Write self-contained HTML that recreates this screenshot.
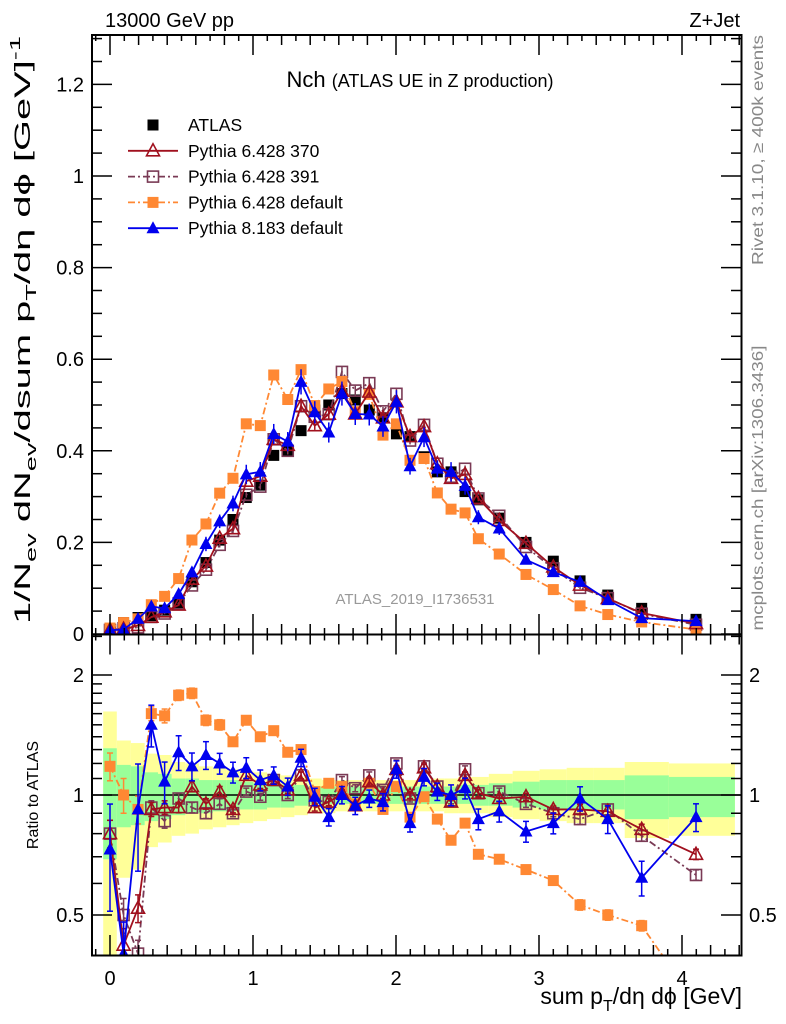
<!DOCTYPE html>
<html><head><meta charset="utf-8"><style>
html,body{margin:0;padding:0;background:#fff;}
svg{display:block;font-family:"Liberation Sans",sans-serif;}
</style></head><body>
<svg id="chart" width="786" height="1024" viewBox="0 0 786 1024" xmlns="http://www.w3.org/2000/svg">
<defs>
<clipPath id="cm"><rect x="92" y="35" width="650" height="599"/></clipPath>
<clipPath id="cr"><rect x="92" y="634" width="650" height="321"/></clipPath>
</defs>
<g id="bands" clip-path="url(#cr)"></g>
<g id="marks"></g>
<rect x="92" y="35" width="649.5" height="599.5" fill="none" stroke="#000" stroke-width="2"/>
<rect x="92" y="634.5" width="649.5" height="321" fill="none" stroke="#000" stroke-width="2"/>
<g id="ticks"></g>
<text x="105" y="27" font-size="20">13000 GeV pp</text>
<text x="740" y="27" font-size="20" text-anchor="end">Z+Jet</text>
<text x="420" y="87" font-size="22" text-anchor="middle">Nch <tspan font-size="18">(ATLAS UE in Z production)</tspan></text>
<text x="415" y="604" font-size="15" fill="#999" text-anchor="middle">ATLAS_2019_I1736531</text>
<text transform="translate(763,150) rotate(-90)" font-size="16" fill="#888" text-anchor="middle" textLength="230" lengthAdjust="spacingAndGlyphs">Rivet 3.1.10, ≥ 400k events</text>
<text transform="translate(763,488) rotate(-90)" font-size="16" fill="#888" text-anchor="middle" textLength="285" lengthAdjust="spacingAndGlyphs">mcplots.cern.ch [arXiv:1306.3436]</text>
<text transform="translate(30,330) rotate(-90)" font-size="22" text-anchor="middle" textLength="588" lengthAdjust="spacingAndGlyphs">1/N<tspan font-size="15" dy="6">ev</tspan><tspan dy="-6"> dN</tspan><tspan font-size="15" dy="6">ev</tspan><tspan dy="-6">/dsum p</tspan><tspan font-size="15" dy="6">T</tspan><tspan dy="-6">/dη dϕ  [GeV]</tspan><tspan font-size="15" dy="-10">-1</tspan></text>
<text transform="translate(38,795) rotate(-90)" font-size="16" text-anchor="middle">Ratio to ATLAS</text>
<text x="742" y="1004" font-size="23" text-anchor="end">sum p<tspan font-size="16" dy="7">T</tspan><tspan dy="-7">/dη dϕ [GeV]</tspan></text>
<g id="legend"></g>
</svg>
<script>
const xBins = [0.0,0.095,0.196,0.289,0.382,0.48,0.573,0.671,0.767,0.86,0.953,1.051,1.145,1.243,1.336,1.432,1.53,1.622,1.715,1.813,1.909,2.003,2.098,2.196,2.289,2.385,2.483,2.576,2.722,2.909,3.100,3.287,3.481,3.718,4.098];
const atlasVals = [0.011,0.025,0.036,0.04,0.052,0.068,0.114,0.156,0.205,0.25,0.298,0.325,0.39,0.40,0.444,0.489,0.5,0.525,0.511,0.489,0.472,0.437,0.431,0.387,0.354,0.354,0.311,0.293,0.253,0.2,0.159,0.116,0.085,0.056,0.032];
const ratio370 = [0.8,0.42,0.52,0.92,0.93,0.93,1.05,0.95,1.02,0.92,1.12,1.06,1.09,1.03,1.12,0.93,0.96,1.01,0.94,1.08,1.0,1.16,1.0,1.17,1.05,0.96,1.12,1.01,0.98,0.99,0.92,0.92,0.91,0.82,0.71];
const ratio391 = [0.8,0.5,0.4,0.93,0.86,0.98,0.93,0.9,0.95,0.9,1.02,0.99,1.09,1.0,1.12,0.97,0.96,1.09,1.04,1.12,1.03,1.2,0.98,1.18,1.05,0.97,1.16,1.01,1.02,0.95,0.9,0.87,0.92,0.79,0.63];
const ratioP6def = [1.18,1.0,0.92,1.6,1.58,1.78,1.8,1.54,1.5,1.36,1.54,1.4,1.45,1.28,1.3,1.02,1.07,1.05,0.95,1.07,0.92,1.05,0.88,0.99,0.87,0.77,0.85,0.71,0.69,0.65,0.61,0.53,0.5,0.47,0.3];
const ratioP8def = [0.73,0.4,0.92,1.5,1.08,1.28,1.18,1.26,1.2,1.14,1.17,1.09,1.12,1.05,1.24,0.99,0.88,1.0,0.94,0.98,0.96,1.16,0.85,1.11,1.02,1.0,1.04,0.87,0.91,0.81,0.85,0.98,0.87,0.62,0.88];
const errSmall = [0.08,0.1,0.08,0.04,0.04,0.03,0.03,0.03,0.03,0.02,0.02,0.02,0.02,0.02,0.02,0.02,0.02,0.02,0.02,0.02,0.02,0.02,0.02,0.02,0.02,0.02,0.02,0.02,0.02,0.02,0.02,0.03,0.03,0.03,0.03];
const errBlue = [0.3,0.2,0.3,0.12,0.12,0.1,0.08,0.08,0.06,0.06,0.06,0.06,0.05,0.05,0.05,0.05,0.05,0.05,0.05,0.05,0.05,0.05,0.05,0.05,0.05,0.06,0.06,0.06,0.06,0.06,0.06,0.07,0.08,0.1,0.08];
const yelUp = [1.62,1.37,1.35,1.27,1.26,1.21,1.2,1.18,1.17,1.16,1.15,1.14,1.13,1.12,1.11,1.1,1.09,1.09,1.09,1.09,1.09,1.09,1.09,1.09,1.1,1.1,1.11,1.11,1.13,1.15,1.16,1.17,1.17,1.21,1.2];
const yelLo = [0.3,0.62,0.65,0.74,0.76,0.79,0.8,0.82,0.83,0.84,0.85,0.86,0.87,0.88,0.89,0.9,0.9,0.91,0.91,0.91,0.91,0.91,0.91,0.91,0.91,0.9,0.9,0.9,0.88,0.87,0.86,0.85,0.85,0.78,0.79];
const grnUp = [1.31,1.19,1.18,1.14,1.13,1.1,1.1,1.09,1.09,1.09,1.08,1.07,1.07,1.06,1.06,1.05,1.05,1.05,1.05,1.05,1.05,1.05,1.05,1.05,1.05,1.05,1.06,1.06,1.07,1.08,1.09,1.09,1.09,1.12,1.11];
const grnLo = [0.69,0.83,0.84,0.86,0.87,0.89,0.9,0.9,0.91,0.91,0.92,0.92,0.93,0.93,0.94,0.95,0.95,0.95,0.95,0.95,0.95,0.95,0.95,0.95,0.95,0.95,0.95,0.94,0.94,0.93,0.92,0.92,0.92,0.87,0.88];
const mainTicks = ["0","0.2","0.4","0.6","0.8","1","1.2"];
const ratioTicks = ["0.5","1","2"];
const xTicks = ["0","1","2","3","4"];

const NS="http://www.w3.org/2000/svg";
const X = v => 110 + v*143;
const Ym = v => 634 - v*458;
const Yr = r => 795 - 398.6*Math.log10(r);
function mk(tag, attrs, parent){const e=document.createElementNS(NS,tag);for(const k in attrs)e.setAttribute(k,attrs[k]);parent.appendChild(e);return e;}
const marks=document.getElementById('marks'), ticks=document.getElementById('ticks'), bands=document.getElementById('bands'), legend=document.getElementById('legend');

const edges=[xBins[0]-0.0475];
for(let i=0;i<xBins.length-1;i++)edges.push((xBins[i]+xBins[i+1])/2);
edges.push(4.37);
function band(up,lo,col,name){
  for(let i=0;i<xBins.length;i++){
    const r=mk('rect',{x:X(edges[i]),y:Yr(up[i]),width:X(edges[i+1])-X(edges[i]),height:Yr(lo[i])-Yr(up[i]),fill:col},bands);
    
    
  }
}
band(yelUp,yelLo,'#ffff99','ratio-band-total');
band(grnUp,grnLo,'#99ff99','ratio-band-stat');
const one=mk('line',{x1:92,x2:741,y1:Yr(1),y2:Yr(1),stroke:'#000','stroke-width':1.5},marks);



function marker(type,x,y,col,g){
  if(type==='sq'){mk('rect',{x:x-5.5,y:y-5.5,width:11,height:11,fill:col},g);}
  else if(type==='osq'){mk('rect',{x:x-5.5,y:y-5.5,width:11,height:11,fill:'#fff','fill-opacity':0,stroke:col,'stroke-width':1.6},g);}
  else if(type==='tri'){mk('polygon',{points:`${x},${y-7} ${x-6.5},${y+5} ${x+6.5},${y+5}`,fill:col},g);}
  else if(type==='otri'){mk('polygon',{points:`${x},${y-7} ${x-6.5},${y+5} ${x+6.5},${y+5}`,fill:'none',stroke:col,'stroke-width':1.6},g);}
}
const series=[
  {name:'pythia-6428-391',ratio:ratio391,col:'#7a3a55',dash:'7,3,2,3',mk:'osq',err:errSmall},
  {name:'pythia-6428-default',ratio:ratioP6def,col:'#ff8833',dash:'7,3,2,3',mk:'sq',err:errSmall},
  {name:'pythia-6428-370',ratio:ratio370,col:'#a0101e',dash:'',mk:'otri',err:errSmall},
  {name:'pythia-8183-default',ratio:ratioP8def,col:'#0000ee',dash:'',mk:'tri',err:errBlue}
];
const ga=mk('g',{},marks);


atlasVals.forEach((v,i)=>marker('sq',X(xBins[i]),Ym(v),'#000',ga));
series.forEach(s=>{
  const gm=mk('g',{'clip-path':'url(#cm)'},marks);
  
  
  const gr=mk('g',{'clip-path':'url(#cr)'},marks);
  
  
  const pm=s.ratio.map((r,i)=>[X(xBins[i]),Ym(r*atlasVals[i])]);
  const pr=s.ratio.map((r,i)=>[X(xBins[i]),Yr(r)]);
  mk('polyline',{points:pm.map(p=>p.join(',')).join(' '),fill:'none',stroke:s.col,'stroke-width':1.8,'stroke-dasharray':s.dash},gm);
  mk('polyline',{points:pr.map(p=>p.join(',')).join(' '),fill:'none',stroke:s.col,'stroke-width':1.8,'stroke-dasharray':s.dash},gr);
  s.ratio.forEach((r,i)=>{
    const x=X(xBins[i]); const e=s.err[i];
    const v=r*atlasVals[i];
    mk('line',{x1:x,x2:x,y1:Ym(v*(1+e)),y2:Ym(v*(1-e)),stroke:s.col,'stroke-width':1.5},gm);
    mk('line',{x1:x,x2:x,y1:Yr(r*(1+e)),y2:Yr(Math.max(0.05,r*(1-e))),stroke:s.col,'stroke-width':1.5},gr);
    mk('line',{x1:x-3,x2:x+3,y1:Yr(r*(1+e)),y2:Yr(r*(1+e)),stroke:s.col,'stroke-width':1.5},gr);
    mk('line',{x1:x-3,x2:x+3,y1:Yr(r*(1-e)),y2:Yr(r*(1-e)),stroke:s.col,'stroke-width':1.5},gr);
    marker(s.mk,x,Ym(v),s.col,gm);
    marker(s.mk,x,Yr(r),s.col,gr);
  });
});
function tl(x1,y1,x2,y2){mk('line',{x1,y1,x2,y2,stroke:'#000','stroke-width':1.5},ticks);}
for(let v=-0.1;v<=4.41;v+=0.1){
  const vv=Math.round(v*10)/10; const x=X(vv); if(x<93||x>740)continue;
  const major=Math.abs(vv-Math.round(vv))<1e-6;
  const L=major?20:(Math.round(vv*10)%2===0?10:6);
  tl(x,634,x,634-L); tl(x,35,x,35+L); tl(x,955,x,955-L); tl(x,634.5,x,634.5+L);
}
xTicks.forEach(t=>{const e=mk('text',{x:X(+t),y:985,'font-size':20,'text-anchor':'middle'},ticks);e.textContent=t;
  
  });
for(let v=0;v<=1.31;v+=0.05){
  const vv=Math.round(v*100)/100; const y=Ym(vv); if(y<36)continue;
  const major=Math.abs(vv*5-Math.round(vv*5))<1e-6;
  const L=major?20:10;
  tl(92,y,92+L,y); tl(741,y,741-L,y);
}
mainTicks.forEach(t=>{const e=mk('text',{x:84,y:Ym(+t)+7,'font-size':20,'text-anchor':'end'},ticks);e.textContent=t;
  
  });
const rt=[0.4,0.5,0.6,0.7,0.8,0.9,1,1.1,1.2,1.3,1.4,1.5,1.6,1.7,1.8,1.9,2,2.5];
rt.forEach(r=>{const y=Yr(r); if(y<636||y>953)return; const L=(r===0.5||r===1||r===2)?20:10; tl(92,y,92+L,y); tl(741,y,741-L,y);});
ratioTicks.forEach(t=>{
  const e=mk('text',{x:84,y:Yr(+t)+7,'font-size':20,'text-anchor':'end'},ticks);e.textContent=t;
  
  
  const e2=mk('text',{x:749,y:Yr(+t)+7,'font-size':20,'text-anchor':'start'},ticks);e2.textContent=t;
  
  
});
const leg=[
  {t:'ATLAS',col:'#000',mk:'sq',dash:null},
  {t:'Pythia 6.428 370',col:'#a0101e',mk:'otri',dash:''},
  {t:'Pythia 6.428 391',col:'#7a3a55',mk:'osq',dash:'7,3,2,3'},
  {t:'Pythia 6.428 default',col:'#ff8833',mk:'sq',dash:'7,3,2,3'},
  {t:'Pythia 8.183 default',col:'#0000ee',mk:'tri',dash:''}
];
leg.forEach((l,i)=>{
  const y=125+i*25.8;
  const g=mk('g',{},legend);
  
  
  if(l.dash!==null)mk('line',{x1:128,x2:178,y1:y,y2:y,stroke:l.col,'stroke-width':1.8,'stroke-dasharray':l.dash},g);
  marker(l.mk,153,y,l.col,g);
  const t=mk('text',{x:188,y:y+6,'font-size':17.5},g);t.textContent=l.t;
});
</script>
</body></html>
